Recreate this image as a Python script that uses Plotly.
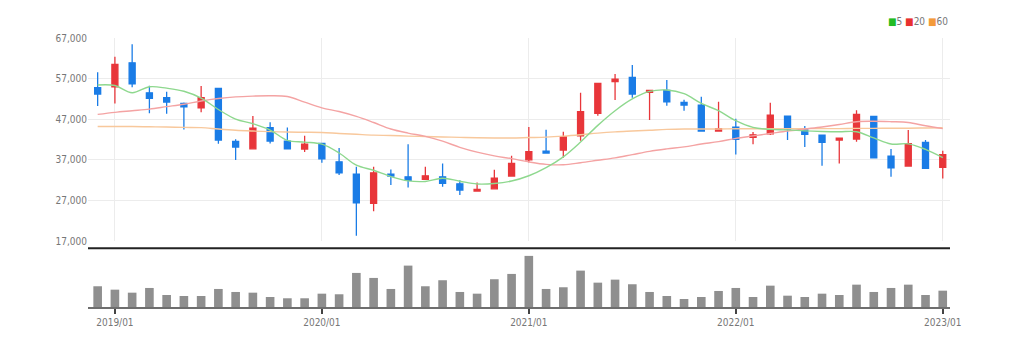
import plotly.graph_objects as go

months = ["2018/12",
          "2019/01", "2019/02", "2019/03", "2019/04", "2019/05", "2019/06",
          "2019/07", "2019/08", "2019/09", "2019/10", "2019/11", "2019/12",
          "2020/01", "2020/02", "2020/03", "2020/04", "2020/05", "2020/06",
          "2020/07", "2020/08", "2020/09", "2020/10", "2020/11", "2020/12",
          "2021/01", "2021/02", "2021/03", "2021/04", "2021/05", "2021/06",
          "2021/07", "2021/08", "2021/09", "2021/10", "2021/11", "2021/12",
          "2022/01", "2022/02", "2022/03", "2022/04", "2022/05", "2022/06",
          "2022/07", "2022/08", "2022/09", "2022/10", "2022/11", "2022/12",
          "2023/01"]

open_ = [54800, 55000, 60900, 53500, 52300, 50900, 49830, 54600, 41560, 39730,
         44910, 41630, 39660, 41060, 36530, 33500, 26280, 33500, 32840, 32200,
         32840, 31110, 29320, 29890, 33010, 37020, 39170, 39410, 42940, 48450,
         56240, 57320, 53620, 54110, 51160, 50500, 44090, 45080, 42540, 43430,
         47790, 44410, 43110, 41880, 42120, 47700, 37940, 35470, 41310, 35150]
high = [58550, 62400, 65450, 55250, 53770, 51150, 55180, 54700, 42050, 47790,
        46240, 45000, 42940, 41130, 39910, 35300, 35300, 34660, 40820, 35300,
        36130, 32020, 31460, 34560, 38010, 45080, 44410, 43920, 53530, 55900,
        58130, 60350, 54150, 56650, 51800, 52540, 51310, 47120, 43850, 51060,
        47850, 45330, 43150, 42450, 49190, 47790, 39660, 44340, 41880, 39240]
low = [50250, 50900, 54900, 48450, 48350, 44500, 48700, 40970, 36950, 39590,
       41060, 39590, 38920, 36290, 33260, 18300, 24390, 30790, 30230, 32100,
       30380, 28330, 29250, 29700, 32900, 36380, 38600, 37520, 41700, 47860,
       51730, 52300, 46800, 50320, 49090, 44000, 44000, 38350, 40820, 43100,
       41880, 40150, 35550, 36130, 41460, 37450, 32840, 35400, 34800, 32440]
close = [53200, 60500, 55700, 52150, 51240, 50080, 52300, 41880, 40150, 44830,
         41630, 39730, 40890, 37270, 33820, 26430, 33820, 33010, 31950, 33090,
         31200, 29560, 29730, 32520, 36130, 39000, 38670, 42690, 48850, 55840,
         56900, 53210, 54110, 51310, 50500, 44090, 44660, 42050, 43180, 48030,
         44590, 43280, 41310, 42370, 48200, 37520, 35060, 40970, 34900, 38260]

ma5 = [55420, 55300, 53530, 55000, 54650, 53900, 52200, 49400, 47050, 45900,
       44350, 41800, 41380, 40870, 38700, 35700, 34450, 32900, 31850, 31700,
       32500, 31750, 31080, 31200, 31800, 33100, 35100, 37750, 41400, 45500,
       49100, 52000, 53850, 54200, 53300, 50900, 49100, 46650, 45000, 44500,
       44400, 44150, 44000, 43920, 43940, 42400, 40900, 40950, 39600, 37560]
ma20 = [48200, 48700, 49100, 49500, 50100, 50700, 51500, 52100, 52500, 52700,
        52800, 52600, 51200, 49800, 48900, 47700, 46200, 44600, 43600, 42800,
        41600, 40100, 38900, 38000, 37300, 36500, 35900, 35800, 36300, 36900,
        37500, 38300, 39100, 39700, 40200, 40900, 41500, 42300, 42900, 43500,
        44100, 44600, 45100, 45700, 46400, 46500, 46400, 46200, 45400, 44700]
ma60 = [45200, 45200, 45200, 45150, 45100, 45000, 44950, 44600, 44300, 44100,
        43950, 43850, 43800, 43750, 43500, 43300, 43100, 43000, 42850, 42750,
        42650, 42550, 42450, 42400, 42400, 42500, 42600, 42850, 43200, 43600,
        43900, 44100, 44300, 44500, 44600, 44600, 44600, 44650, 44650, 44650,
        44700, 44700, 44700, 44700, 44750, 44750, 44800, 44800, 44850, 44900]

volume = [2070000, 1730000, 1430000, 1900000, 1200000, 1100000, 1100000, 1800000,
          1500000, 1430000, 1000000, 870000, 870000, 1330000, 1270000, 3400000,
          2900000, 1800000, 4130000, 2070000, 2670000, 1500000, 1330000, 2770000,
          3300000, 5100000, 1800000, 1970000, 3630000, 2430000, 2730000, 2270000,
          1500000, 1100000, 800000, 1000000, 1600000, 1900000, 1000000, 2130000,
          1130000, 1000000, 1330000, 1200000, 2230000, 1500000, 1900000, 2230000,
          1200000, 1630000]

x_ticks = ["2019/01", "2020/01", "2021/01", "2022/01", "2023/01"]
y_ticks = [17000, 27000, 37000, 47000, 57000, 67000]

UP = "#e8363a"
DOWN = "#1a7ce6"
FONT = "Liberation Sans Narrow, DejaVu Sans Condensed, Arial Narrow, sans-serif"

fig = go.Figure()

fig.add_trace(go.Scatter(x=months, y=ma60, mode="lines", line=dict(color="#f8c89c", width=1.4, shape="spline"),
                         xaxis="x", yaxis="y", hoverinfo="skip", showlegend=False))
fig.add_trace(go.Scatter(x=months, y=ma20, mode="lines", line=dict(color="#f4a3a3", width=1.4, shape="spline"),
                         xaxis="x", yaxis="y", hoverinfo="skip", showlegend=False))
fig.add_trace(go.Scatter(x=months, y=ma5, mode="lines", line=dict(color="#8ed88e", width=1.4, shape="spline"),
                         xaxis="x", yaxis="y", hoverinfo="skip", showlegend=False))

fig.add_trace(go.Candlestick(
    x=months, open=open_, high=high, low=low, close=close,
    increasing=dict(line=dict(color=UP, width=1.3), fillcolor=UP),
    decreasing=dict(line=dict(color=DOWN, width=1.3), fillcolor=DOWN),
    whiskerwidth=0, xaxis="x", yaxis="y", showlegend=False))

fig.add_trace(go.Bar(x=months, y=volume, marker=dict(color="#8f8f8f", line=dict(width=0)),
                     xaxis="x2", yaxis="y2", showlegend=False))

W, H = 1013, 345
top_px, base_px = 38.3, 306.7
ph = base_px - top_px

def py(px):
    return (base_px - px) / ph

xr = [-0.56, 49.42]

fig.update_layout(
    width=W, height=H,
    margin=dict(l=88, r=W - 950, t=top_px, b=H - base_px),
    paper_bgcolor="white", plot_bgcolor="white",
    boxgap=0.5, bargap=0.5,
    font=dict(family=FONT, size=10, color="#777777"),
    showlegend=False,
    xaxis=dict(type="category", range=xr, domain=[0, 1], anchor="y",
               tickmode="array", tickvals=x_ticks, showticklabels=False,
               showgrid=True, gridcolor="#ececec", gridwidth=1,
               rangeslider=dict(visible=False), zeroline=False, showline=False),
    yaxis=dict(domain=[py(241), 1], range=[17000, 67000], tickmode="array",
               tickvals=y_ticks, tickformat=",d", showgrid=True, gridcolor="#ececec",
               gridwidth=1, zeroline=False, showline=False, ticks="",
               tickfont=dict(family=FONT, size=10, color="#777777")),
    xaxis2=dict(type="category", range=xr, domain=[0, 1], anchor="y2", matches="x",
                tickmode="array", tickvals=x_ticks, ticktext=x_ticks,
                showgrid=False, showline=True, linecolor="#6e6e6e", linewidth=2,
                ticks="outside", ticklen=5, tickwidth=1.5, tickcolor="#444444",
                tickfont=dict(family=FONT, size=10, color="#777777"), zeroline=False),
    yaxis2=dict(domain=[0, py(252)], range=[0, 5470000], showgrid=False,
                showticklabels=False, zeroline=False, showline=False, ticks=""),
    shapes=[dict(type="line", xref="paper", yref="paper", x0=0, x1=1,
                 y0=py(248), y1=py(248), line=dict(color="#222222", width=2))],
    annotations=[dict(
        xref="paper", yref="paper", x=1.0, y=py(22), xanchor="right", yanchor="middle",
        showarrow=False, font=dict(family=FONT, size=10, color="#777777"),
        text=("<span style='color:#22bb22'>■</span>5 "
              "<span style='color:#e8312f'>■</span>20 "
              "<span style='color:#f39a3a'>■</span>60"))],
)

fig.write_html("out.html")
